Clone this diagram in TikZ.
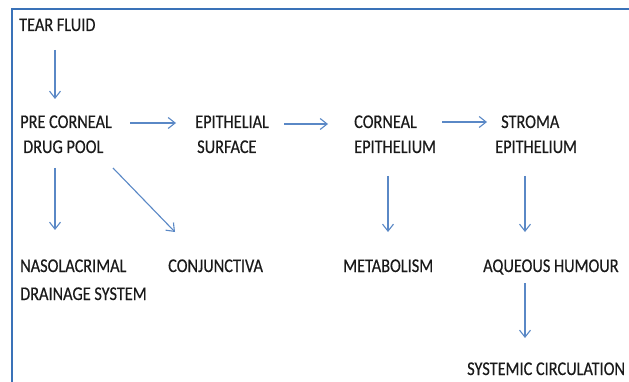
\documentclass[tikz,border=0pt]{standalone}
\usepackage{fontspec}
\setmainfont{Carlito}[FakeStretch=0.84,FakeBold=0.4]
\usetikzlibrary{arrows.meta,calc}
\definecolor{framec}{HTML}{3A72B8}
\definecolor{arrc}{HTML}{5A88C6}
\definecolor{txtc}{HTML}{1A1A1A}
\begin{document}
\begin{tikzpicture}[x=1pt,y=-1pt,
  lbl/.style={anchor=base west,inner sep=0pt,align=left,text=txtc,
    font=\fontsize{19.4pt}{25pt}\selectfont},
  arr/.style={draw=arrc,line width=1.1pt,-{Straight Barb[length=7pt,width=11pt,line width=1.1pt]}}]
\useasboundingbox (0,0) rectangle (629,382);
\fill[white] (0,0) rectangle (629,382);
\draw[framec,line width=2.8pt] (12,390) -- (12,9) -- (640,9);
\node[lbl] (tear) at (19,31) {TEAR FLUID};
\node[lbl] (pre) at (20,153) {PRE CORNEAL\\\hspace*{3pt}DRUG POOL};
\node[lbl] (epi) at (195,153) {EPITHELIAL\\\hspace*{2pt}SURFACE};
\node[lbl] (cor) at (354,153) {CORNEAL\\EPITHELIUM};
\node[lbl] (str) at (495,153) {\hspace*{6pt}STROMA\\EPITHELIUM};
\node[lbl,font=\fontsize{19.4pt}{28pt}\selectfont] (nas) at (20,300) {NASOLACRIMAL\\DRAINAGE SYSTEM};
\node[lbl] (con) at (168,272) {CONJUNCTIVA};
\node[lbl] (met) at (343,272) {METABOLISM};
\node[lbl] (aq) at (483,272) {AQUEOUS HUMOUR};
\node[lbl] (sys) at (467,375) {SYSTEMIC CIRCULATION};
\draw[arr] ($(tear.base west)+(36,19)$) -- ($(pre.base west)+(35,-54)$);
\draw[arr] ($(pre.base west)+(110,-30)$) -- ($(epi.base west)+(-19,-30)$);
\draw[arr] ($(epi.base west)+(89,-29)$) -- ($(cor.base west)+(-26,-29)$);
\draw[arr] ($(cor.base west)+(88,-31)$) -- ($(str.base west)+(-8,-31)$);
\draw[arr] ($(pre.base west)+(35,15)$) -- ($(nas.base west)+(35,-70)$);
\draw[arr] ($(pre.base west)+(93,15)$) -- ($(con.base west)+(7,-40)$);
\draw[arr] ($(cor.base west)+(34,23)$) -- ($(met.base west)+(45,-40)$);
\draw[arr] ($(str.base west)+(30,23)$) -- ($(aq.base west)+(42,-40)$);
\draw[arr] ($(aq.base west)+(42,11)$) -- ($(sys.base west)+(58,-37)$);
\end{tikzpicture}
\end{document}
